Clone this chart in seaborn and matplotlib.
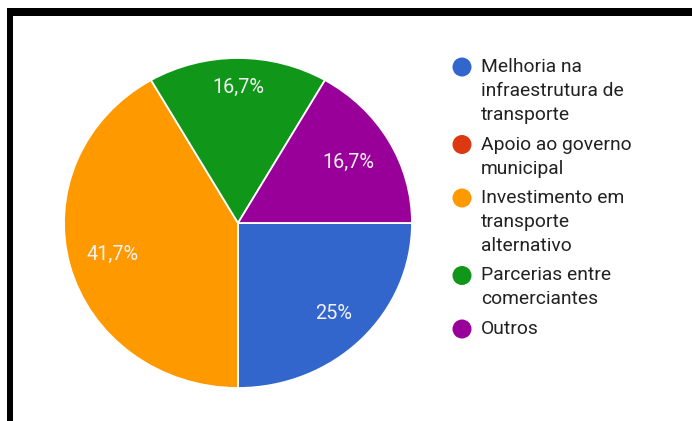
import numpy as np
import matplotlib
matplotlib.use("Agg")
import matplotlib.pyplot as plt
from matplotlib.patches import Circle, Rectangle
import seaborn as sns

# Survey answers (number of responses per option)
categories = [
    "Melhoria na\ninfraestrutura de\ntransporte",
    "Apoio ao governo\nmunicipal",
    "Investimento em\ntransporte\nalternativo",
    "Parcerias entre\ncomerciantes",
    "Outros",
]
counts = [3, 0, 5, 2, 2]
colors = ["#3366cc", "#dc3912", "#ff9900", "#109618", "#990099"]

sns.set_style("white")
plt.rcParams["font.family"] = ["Roboto", "DejaVu Sans"]

fig = plt.figure(figsize=(6.92, 4.21), dpi=100)
fig.patch.set_facecolor("white")

# Pie area
ax = fig.add_axes([64 / 692, 33 / 421, 348 / 692, 330 / 421])
wedges, _ = ax.pie(
    counts,
    colors=colors,
    startangle=0,
    counterclock=False,
    radius=1,
    wedgeprops=dict(edgecolor="white", linewidth=1.3),
)
ax.set_aspect("auto")
ax.set_xlim(-1, 1)
ax.set_ylim(-1, 1)
ax.axis("off")

total = sum(counts)
label_dist = [0.775, 0.75, 0.745, 0.82, 0.73]
for w, c, d in zip(wedges, counts, label_dist):
    if c == 0:
        continue
    pct = 100 * c / total
    txt = f"{pct:.1f}".rstrip("0").rstrip(".").replace(".", ",") + "%"
    ang = np.deg2rad((w.theta1 + w.theta2) / 2)
    ax.text(d * np.cos(ang), d * np.sin(ang), txt, ha="center", va="center",
            fontsize=14.3, color="#f2f2f2")

# Overlay in pixel coordinates for the legend and frame
ov = fig.add_axes([0, 0, 1, 1])
ov.set_xlim(0, 692)
ov.set_ylim(421, 0)
ov.axis("off")

ov.add_patch(Rectangle((7, 8), 692 - 7, 8, color="black", lw=0))
ov.add_patch(Rectangle((7, 8), 6, 421 - 8, color="black", lw=0))

y = 67
for cat, col in zip(categories, colors):
    lines = cat.split("\n")
    ov.add_patch(Circle((462, y), 9.5, color=col, lw=0))
    for i, line in enumerate(lines):
        ov.text(481, y + 24 * i, line, ha="left", va="center",
                fontsize=13.9, color="#222222")
    y += 24 * len(lines) + 5.5

fig.savefig("out.png", dpi=100, facecolor="white")
